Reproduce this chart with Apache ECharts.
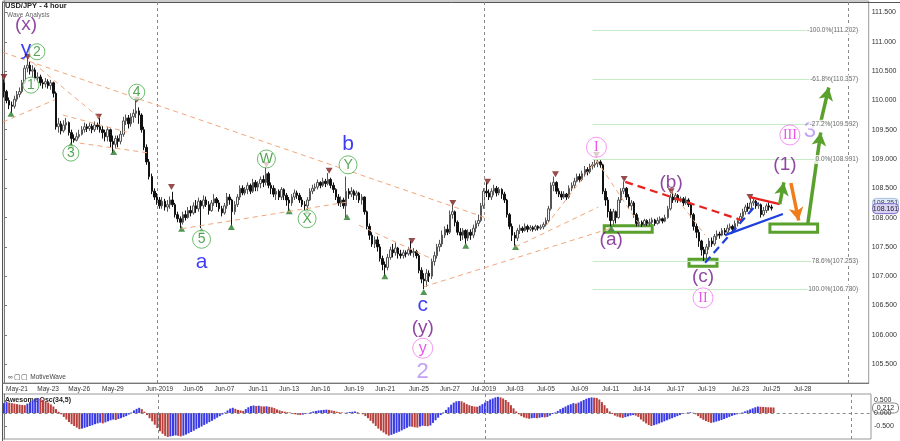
<!DOCTYPE html>
<html><head><meta charset="utf-8">
<script src="https://cdn.jsdelivr.net/npm/echarts@6/dist/echarts.min.js"></script>
<style>html,body{margin:0;padding:0;background:#fff;}#c{width:900px;height:441px;}</style>
</head><body><div id="c"></div>
<script>
// ---------- DATA ----------
const firstOpen = 110.30;
const closes = [
110.15,110.00,109.92,109.90,110.02,110.10,110.15,110.30,110.55,110.60,
110.50,110.52,110.38,110.40,110.30,110.28,110.32,110.25,110.30,110.12,
109.55,109.60,109.48,109.58,109.62,109.45,109.35,109.32,109.38,109.42,
109.50,109.55,109.52,109.56,109.50,109.58,109.55,109.50,109.45,109.38,
109.50,109.30,109.25,109.35,109.30,109.42,109.65,109.70,109.60,109.72,
109.78,109.82,109.75,109.50,109.20,108.95,108.70,108.45,108.35,108.30,
108.20,108.28,108.18,108.22,108.30,108.22,108.05,107.98,107.92,108.05,
108.00,108.12,108.08,108.20,108.15,108.28,108.20,108.30,108.22,108.12,
108.25,108.32,108.25,108.15,108.08,108.20,108.35,108.30,108.10,108.22,
108.35,108.50,108.42,108.48,108.55,108.45,108.60,108.52,108.58,108.65,
108.60,108.75,108.55,108.50,108.40,108.45,108.35,108.48,108.38,108.30,
108.25,108.35,108.42,108.38,108.30,108.22,108.20,108.30,108.45,108.50,
108.52,108.60,108.55,108.62,108.58,108.65,108.55,108.48,108.35,108.25,
108.30,108.20,108.45,108.40,108.45,108.38,108.42,108.30,108.35,108.10,
107.85,107.70,107.55,107.62,107.50,107.30,107.20,107.15,107.32,107.45,
107.40,107.48,107.38,107.35,107.40,107.38,107.45,107.40,107.42,107.35,
107.10,106.95,106.92,107.05,107.00,107.25,107.35,107.50,107.55,107.70,
107.80,107.75,108.05,108.10,107.92,107.75,107.70,107.78,107.65,107.75,
107.70,107.82,107.90,107.95,108.20,108.45,108.42,108.35,108.45,108.50,
108.42,108.48,108.40,108.30,108.05,107.85,107.70,107.65,107.78,107.82,
107.78,107.85,107.80,107.83,107.80,107.85,107.82,107.84,107.88,107.95,
108.15,108.55,108.60,108.45,108.40,108.35,108.40,108.35,108.50,108.55,
108.62,108.70,108.65,108.75,108.82,108.78,108.88,108.90,108.92,108.95,
108.90,108.45,108.30,108.10,107.95,108.10,108.00,108.30,108.45,108.50,
108.35,108.20,108.25,108.05,107.90,107.92,107.88,107.95,107.90,107.92,
107.96,107.90,107.95,107.98,107.94,108.00,108.15,108.35,108.30,108.38,
108.30,108.32,108.25,108.30,108.22,108.05,107.85,107.75,107.60,107.45,
107.38,107.50,107.60,107.55,107.68,107.72,107.70,107.78,107.75,107.82,
107.85,107.80,107.90,107.95,108.02,108.10,108.18,108.15,108.25,108.28,
108.20,108.22,108.05,108.12,108.20,108.18,108.161];
const highs = [
110.36,110.18,110.05,109.98,110.08,110.16,110.22,110.35,110.60,110.72,
110.66,110.60,110.56,110.48,110.44,110.36,110.38,110.36,110.35,110.32,
110.15,109.70,109.65,109.66,109.70,109.64,109.50,109.42,109.45,109.50,
109.56,109.62,109.60,109.62,109.60,109.64,109.62,109.70,109.56,109.50,
109.55,109.52,109.40,109.40,109.40,109.48,109.72,109.76,109.75,109.78,
109.85,110.00,109.88,109.78,109.55,109.25,109.00,108.75,108.50,108.42,
108.35,108.35,108.32,108.30,108.36,108.44,108.25,108.10,108.02,108.10,
108.12,108.18,108.20,108.26,108.30,108.34,108.30,108.38,108.36,108.28,
108.30,108.40,108.35,108.30,108.20,108.25,108.42,108.40,108.32,108.28,
108.40,108.55,108.55,108.52,108.60,108.58,108.66,108.64,108.62,108.70,
108.72,108.86,108.78,108.60,108.55,108.50,108.48,108.52,108.50,108.42,
108.35,108.40,108.48,108.46,108.42,108.35,108.28,108.35,108.50,108.56,
108.58,108.65,108.62,108.68,108.66,108.76,108.68,108.60,108.50,108.40,
108.36,108.34,108.70,108.50,108.52,108.48,108.46,108.44,108.40,108.36,
108.12,107.90,107.75,107.68,107.68,107.55,107.35,107.25,107.38,107.50,
107.55,107.58,107.50,107.45,107.45,107.44,107.50,107.60,107.48,107.45,
107.38,107.15,107.05,107.12,107.10,107.30,107.42,107.55,107.62,107.78,
107.85,107.88,108.12,108.22,108.12,107.95,107.82,107.82,107.80,107.80,
107.80,107.88,107.95,108.05,108.25,108.50,108.60,108.48,108.50,108.56,
108.54,108.52,108.50,108.44,108.32,108.08,107.90,107.75,107.82,107.88,
107.85,107.90,107.88,107.87,107.86,107.88,107.87,107.88,107.92,108.00,
108.20,108.60,108.70,108.62,108.50,108.45,108.45,108.42,108.55,108.60,
108.68,108.75,108.75,108.80,108.88,108.86,108.92,108.95,109.00,108.99,
108.98,108.92,108.50,108.35,108.15,108.15,108.12,108.35,108.50,108.62,
108.52,108.40,108.30,108.28,108.08,108.00,107.95,107.98,107.97,107.98,
108.00,107.98,108.00,108.02,108.00,108.05,108.20,108.40,108.44,108.42,
108.40,108.36,108.35,108.36,108.33,108.25,108.08,107.90,107.80,107.62,
107.50,107.55,107.65,107.66,107.72,107.78,107.76,107.82,107.82,107.88,
107.90,107.88,107.95,108.00,108.08,108.15,108.22,108.25,108.33,108.32,
108.30,108.26,108.24,108.18,108.24,108.26,108.22];
const lows = [
110.05,109.95,109.85,109.78,109.86,109.98,110.05,110.12,110.28,110.48,
110.44,110.40,110.32,110.30,110.25,110.20,110.22,110.20,110.18,110.05,
109.50,109.45,109.42,109.45,109.50,109.40,109.24,109.28,109.30,109.35,
109.40,109.45,109.46,109.48,109.44,109.46,109.50,109.45,109.35,109.30,
109.30,109.20,109.10,109.18,109.20,109.25,109.38,109.58,109.52,109.55,
109.62,109.70,109.60,109.45,109.15,108.90,108.65,108.40,108.30,108.22,
108.15,108.15,108.12,108.10,108.15,108.18,108.00,107.92,107.82,107.88,
107.95,107.98,108.02,108.05,108.08,108.10,107.82,108.15,108.18,108.05,
108.10,108.20,108.18,108.10,108.02,108.05,108.15,108.22,107.85,108.05,
108.18,108.30,108.38,108.38,108.40,108.40,108.42,108.45,108.45,108.50,
108.52,108.55,108.50,108.40,108.35,108.30,108.30,108.30,108.30,108.20,
108.10,108.20,108.30,108.32,108.25,108.18,108.12,108.10,108.28,108.40,
108.45,108.48,108.50,108.52,108.52,108.55,108.50,108.42,108.30,108.20,
108.18,108.15,108.00,108.32,108.35,108.30,108.30,108.25,108.22,108.05,
107.80,107.62,107.50,107.48,107.42,107.25,107.10,107.00,107.10,107.28,
107.32,107.35,107.30,107.30,107.30,107.32,107.35,107.35,107.32,107.30,
107.05,106.88,106.78,106.82,106.90,106.95,107.18,107.30,107.42,107.50,
107.65,107.70,107.72,107.98,107.85,107.70,107.60,107.62,107.55,107.60,
107.62,107.65,107.75,107.85,107.92,108.15,108.35,108.30,108.30,108.38,
108.36,108.38,108.32,108.25,108.00,107.80,107.60,107.52,107.60,107.72,
107.74,107.76,107.75,107.77,107.76,107.77,107.78,107.79,107.80,107.85,
107.92,108.12,108.45,108.40,108.35,108.30,108.32,108.30,108.32,108.45,
108.50,108.60,108.60,108.62,108.70,108.72,108.75,108.82,108.85,108.86,
108.85,108.40,108.20,108.00,107.85,107.88,107.90,107.98,108.25,108.40,
108.30,108.15,108.12,108.00,107.85,107.85,107.84,107.85,107.86,107.86,
107.88,107.86,107.88,107.90,107.90,107.92,107.98,108.12,108.25,108.26,
108.25,108.26,108.20,108.22,108.18,108.00,107.78,107.65,107.50,107.35,
107.24,107.30,107.45,107.50,107.52,107.62,107.64,107.68,107.70,107.72,
107.78,107.76,107.78,107.85,107.92,107.98,108.05,108.10,108.12,108.20,
108.15,108.15,108.00,108.02,108.08,108.12,108.12];
const aoValues = [
0.38,0.42,
0.40,0.38,0.36,0.34,0.32,0.31,0.30,
0.36,0.42,0.48,0.54,0.58,
0.55,0.50,0.45,0.40,0.33,
0.25,0.15,0.05,-0.05,
-0.15,-0.25,-0.35,-0.43,-0.50,-0.56,-0.62,
-0.60,-0.57,-0.54,-0.50,-0.47,-0.43,-0.40,-0.37,-0.40,-0.36,-0.32,
-0.28,-0.25,-0.27,-0.23,-0.20,-0.16,-0.12,-0.06,
0.02,0.10,0.16,0.20,
0.15,0.05,
-0.08,-0.20,-0.32,-0.45,-0.58,-0.70,-0.80,-0.88,
-0.92,-0.90,-0.88,-0.86,-0.88,-0.90,
-0.87,-0.83,-0.78,-0.73,-0.68,-0.62,-0.57,-0.52,-0.46,-0.41,-0.35,-0.30,-0.24,-0.18,-0.12,-0.06,
0.02,0.10,0.17,0.20,
0.16,0.12,0.10,
0.08,0.15,0.22,0.27,0.29,0.27,0.28,0.26,0.25,0.26,0.24,0.22,0.19,
0.14,0.10,0.07,0.05,0.03,0.02,
-0.02,-0.05,-0.07,-0.08,-0.06,-0.04,-0.01,
0.03,0.06,0.08,0.10,0.11,0.12,0.13,0.12,0.10,0.08,0.05,0.03,0.02,
0.01,0.02,0.04,0.05,0.06,0.03,0.00,
-0.05,-0.12,-0.20,-0.30,-0.40,-0.50,-0.60,-0.68,-0.75,-0.82,-0.87,
-0.84,-0.80,-0.76,-0.72,-0.67,-0.62,-0.57,-0.52,
-0.53,-0.55,-0.56,-0.52,-0.49,-0.50,-0.51,-0.48,
-0.38,-0.28,-0.18,-0.08,0.02,
0.12,0.22,0.32,0.40,0.45,
0.46,0.45,
0.40,0.34,0.30,0.27,0.25,0.24,
0.28,0.34,0.40,0.46,0.52,0.56,0.60,0.62,
0.60,0.56,0.50,0.42,
0.30,0.18,0.06,-0.05,
-0.12,-0.17,-0.20,-0.22,-0.20,-0.19,-0.20,-0.18,-0.16,-0.17,-0.15,-0.10,
-0.04,0.02,0.08,0.15,0.20,
0.25,0.30,0.34,0.38,0.36,0.40,0.45,
0.50,0.55,0.58,0.60,0.59,0.58,
0.52,0.42,0.30,0.18,0.06,
-0.04,-0.10,-0.14,-0.17,-0.19,
-0.16,-0.13,-0.10,-0.08,-0.10,
-0.15,-0.25,-0.33,-0.40,-0.46,-0.50,
-0.47,-0.44,-0.40,-0.36,-0.32,-0.28,-0.24,-0.20,-0.16,-0.12,-0.08,-0.04,-0.01,0.02,
0.03,0.01,
-0.05,-0.12,-0.20,-0.26,-0.31,-0.35,-0.38,
-0.36,-0.33,-0.30,-0.27,-0.23,-0.19,-0.15,-0.11,-0.08,-0.05,-0.02,
0.02,0.06,0.10,0.14,0.18,0.22,0.25,
0.24,0.23,0.225,0.22,0.215,0.212];
const tickIdx  = [5,17,29,42,60,73,85,98,110,122,135,147,160,172,185,197,209,222,234,246,259,271,284,296,308];
const tickText = ['May-21','May-23','May-26','May-29','Jun-2019','Jun-05','Jun-07','Jun-11','Jun-13','Jun-16','Jun-19','Jun-21','Jun-25','Jun-27','Jul-2019','Jul-03','Jul-05','Jul-09','Jul-11','Jul-14','Jul-17','Jul-19','Jul-23','Jul-25','Jul-28'];
const fibPrices = [111.202,110.357,109.592,108.991,107.253,106.780];
const fibNames  = ['-100.0%','-61.8%','-27.2%','0.0%','78.6%','100.0%'];
const lastPrice = 108.161;
const prevPrice = 108.251;
const lastAO = 0.212;
const SLOTS = 334;

// ---------- ANNOTATIONS (bar index, price) ----------
const waveTexts = [
 [8.5,111.29,'(x)','p'],[8.5,110.88,'y','b'],[76.2,107.23,'a','b'],[132.7,109.26,'b','b'],
 [161.5,106.51,'c','b'],[161.5,106.12,'(y)','p'],[161.5,105.37,'2','l'],
 [234.2,107.62,'(a)','p'],[257.3,108.59,'(b)','p'],[269.6,106.99,'(c)','p'],
 [301.2,108.90,'(1)','p'],[310.8,109.48,'3','l']];
const waveCircles = [
 [12.7,110.83,'2','g'],[10.4,110.26,'1','g'],[25.8,109.10,'3','g'],[51.2,110.14,'4','g'],
 [76.2,107.63,'5','G'],[101.2,109.0,'W','G'],[116.9,107.98,'X','G'],[132.7,108.90,'Y','G'],
 [161.5,105.77,'y','m'],[228.5,109.20,'I','m'],[269.6,106.63,'II','m'],[303.1,109.41,'III','m']];
const topMarks = [[0,110.40],[9.2,110.74],[36.5,109.72],[51.2,110.01],[64.6,108.52],[101.2,108.90],
 [125.4,108.80],[157.3,107.60],[173.1,108.25],[186.5,108.61],[212.7,108.74],[228.5,109.07],
 [239.2,108.66],[257.3,108.45],[287.7,108.35]];
const botMarks = [[2.7,109.77],[25.8,109.24],[42.3,109.12],[68.5,107.81],[76.2,107.77],[87.7,107.84],
 [110,108.11],[116.9,108.11],[132.3,108.01],[146.9,107.0],[161.9,106.73],[178.1,107.52],[197.3,107.50],[234.2,107.82]];
const peachLines = [
 [[-0.4,110.82],[186.9,107.98]],[[11.2,110.64],[36.9,109.70]],[[22.7,109.75],[47.3,109.46]],
 [[29.2,109.27],[56.2,109.10]],[[-0.4,109.63],[19.6,110.01]],[[68.5,107.81],[133.1,108.27]],
 [[136.9,107.87],[163.8,107.32]],[[161.9,106.82],[234.2,107.82]],[[197.3,107.50],[229.2,108.18]],
 [[209.2,107.87],[228.5,108.98]],[[228.5,108.98],[244.6,107.91]],[[257.3,108.45],[270.4,107.70]]];
const boldLines = [
 [[239.6,108.61],[284.2,107.96],'#e8231f','dashed',2.2,false],
 [[287.7,108.35],[299.2,108.23],'#e8231f','solid',2.2,false],
 [[270.4,107.23],[290.8,108.25],'#1f3fdc','dashed',2.2,false],
 [[278.1,107.70],[300.4,108.06],'#1f3fdc','solid',2.2,false],
 [[299.2,108.23],[300.8,108.60],'#5aa02c','solid',3.5,true],
 [[303.5,108.59],[306.5,107.95],'#f07d1a','solid',3.5,true],
 [[310.0,107.89],[315.0,109.45],'#5aa02c','solid',3.5,true],
 [[315.0,109.63],[318.1,110.22],'#5aa02c','solid',3.5,true]];
const boxes = [[[231.5,107.86],[250,107.75]],[[264.2,107.29],[275,107.17]],[[295.4,107.89],[313.8,107.75]]];

// ---------- BUILD ----------
const cats = Array.from({length:SLOTS},(_,i)=>String(i));
const candle = closes.map((c,i)=>{
  const o = i===0?firstOpen:closes[i-1];
  return [o,c,Math.min(lows[i],o,c),Math.max(highs[i],o,c)];
});
const aoData = aoValues.map((v,i)=>({value:v,itemStyle:{color:(i===0||v>=aoValues[i-1])?'#3a3ae6':'#b8403c'}}));
const tickMap = {}; tickIdx.forEach((k,j)=>tickMap[k]=tickText[j]);
const FONT='"Liberation Sans", Arial, sans-serif';
const colors = {p:'#74198a',b:'#0a0af5',l:'#b08af2'};

const textData = waveTexts.map(t=>({value:[t[0],t[1]],label:{show:true,position:'inside',formatter:t[2],
  color:colors[t[3]],fontSize:t[3]==='l'?22:(t[3]==='b'?21:19),fontFamily:FONT}}));
const fibLabelData = fibPrices.map((p,j)=>({value:[330,p],label:{show:true,position:'left',distance:0,
  formatter:fibNames[j]+'('+p.toFixed(3)+')',fontSize:6.5,color:'#444',fontFamily:FONT,backgroundColor:'#fff',padding:[1,1]}}));
const circleData = waveCircles.map(c=>{
  const k=c[3]; const sz = k==='g'?16:(k==='G'?18:20);
  const col = k==='m'?'#e22be2':'#2a8f2a';
  const serif = (k==='m' && c[2]!=='y');
  return {value:[c[0],c[1]],symbolSize:sz,itemStyle:{color:'rgba(255,255,255,0.9)',borderColor:k==='m'?'#f27af2':'#48ad48',borderWidth:1},
    label:{show:true,position:'inside',formatter:c[2],color:col,fontSize:serif?14:(k==='m'?16:14),
      fontFamily:serif?'"Liberation Serif", serif':FONT}};
});
const mlData = [];
peachLines.forEach(l=>mlData.push([{coord:l[0],symbol:'none',lineStyle:{color:'#f0a77c',width:1,type:[5,4]}},{coord:l[1],symbol:'none'}]));
fibPrices.forEach(p=>mlData.push([{coord:[227,p],symbol:'none',lineStyle:{color:'#c6ecc6',width:1,type:'solid'}},{coord:[330,p],symbol:'none'}]));
boldLines.forEach(l=>mlData.push([{coord:l[0],symbol:'none',lineStyle:{color:l[2],width:l[4],type:l[3]==='dashed'?[8,5]:'solid'}},
  {coord:l[1],symbol:l[5]?'arrow':'none',symbolSize:l[5]?[11,13]:0}]));
const maData = boxes.map(b=>[{coord:b[0],itemStyle:{color:'#ffffff',borderColor:'#5aa02c',borderWidth:3}},{coord:b[1]}]);

const chart = echarts.init(document.getElementById('c'),null,{renderer:'canvas'});
const GL=2.7, GR=29;
chart.setOption({
  animation:false,
  backgroundColor:'#fff',
  grid:[{left:GL,right:GR,top:1,bottom:58,show:true,borderColor:'#999',borderWidth:1},
        {left:GL,right:GR,top:394,bottom:2,show:true,borderColor:'#999',borderWidth:1}],
  xAxis:[
    {type:'category',gridIndex:0,data:cats,boundaryGap:true,
     axisLine:{lineStyle:{color:'#777'}},
     axisTick:{interval:(i)=>tickMap[i]!==undefined,alignWithLabel:true,length:3,lineStyle:{color:'#777'}},
     axisLabel:{interval:(i)=>tickMap[i]!==undefined,formatter:(v,i)=>tickMap[i]||'',fontSize:6.5,color:'#333',margin:3,fontFamily:FONT},
     splitLine:{show:false}},
    {type:'category',gridIndex:1,data:cats,boundaryGap:true,axisLine:{show:false},axisTick:{show:false},axisLabel:{show:false}},
    {type:'value',gridIndex:0,min:-0.5,max:SLOTS-0.5,show:false},
    {type:'value',gridIndex:1,min:-0.5,max:SLOTS-0.5,show:false}
  ],
  yAxis:[
    {type:'value',gridIndex:0,position:'right',min:105.177,max:111.696,minInterval:0.5,maxInterval:0.5,splitNumber:13,
     axisLine:{show:true,lineStyle:{color:'#777'}},axisTick:{show:true,length:3,lineStyle:{color:'#777'}},
     axisLabel:{showMinLabel:false,showMaxLabel:false,formatter:v=>v.toFixed(3),fontSize:7,color:'#333',margin:3,fontFamily:FONT},
     splitLine:{show:false}},
    {type:'value',gridIndex:1,position:'right',min:-1.0,max:0.731,minInterval:0.5,maxInterval:0.5,
     axisLine:{show:true,lineStyle:{color:'#777'}},axisTick:{show:true,length:3,lineStyle:{color:'#777'}},
     axisLabel:{showMinLabel:false,showMaxLabel:false,formatter:v=>v.toFixed(3),fontSize:7,color:'#333',margin:3,fontFamily:FONT},
     splitLine:{show:false}}
  ],
  series:[
    {type:'scatter',xAxisIndex:2,yAxisIndex:0,z:1,silent:true,data:[[0,108]],symbolSize:0,
     markLine:{silent:true,symbol:'none',label:{show:false},lineStyle:{color:'#888',type:[3,3],width:1},
       data:[{xAxis:59.2},{xAxis:185.3},{xAxis:325.8}]}},
    {type:'candlestick',xAxisIndex:0,yAxisIndex:0,z:2,data:candle,barWidth:2,silent:true,
     itemStyle:{color:'#f4f4f4',color0:'#111',borderColor:'#555',borderColor0:'#111',borderWidth:1}},
    {type:'scatter',xAxisIndex:2,yAxisIndex:0,z:3,silent:true,clip:false,data:[[0,108]],symbolSize:0,
     markLine:{silent:true,symbol:'none',label:{show:false},data:mlData},
     markArea:{silent:true,data:maData}},
    {type:'scatter',xAxisIndex:2,yAxisIndex:0,z:4,silent:true,symbol:'triangle',symbolRotate:180,symbolSize:[7,6],
     itemStyle:{color:'#7a1f1f'},data:topMarks},
    {type:'scatter',xAxisIndex:2,yAxisIndex:0,z:4,silent:true,symbol:'triangle',symbolSize:[7,6],
     itemStyle:{color:'#2a7a2a'},data:botMarks},
    {type:'scatter',xAxisIndex:2,yAxisIndex:0,z:5,silent:true,clip:false,symbolSize:1,itemStyle:{color:'rgba(0,0,0,0)'},data:textData},
    {type:'scatter',xAxisIndex:2,yAxisIndex:0,z:5,silent:true,clip:false,symbol:'circle',data:circleData},
    {type:'scatter',xAxisIndex:2,yAxisIndex:0,z:5,silent:true,clip:false,symbolSize:1,itemStyle:{color:'rgba(0,0,0,0)'},data:fibLabelData},
    {type:'scatter',xAxisIndex:3,yAxisIndex:1,z:1,silent:true,data:[[0,0]],symbolSize:0,
     markLine:{silent:true,symbol:'none',label:{show:false},lineStyle:{color:'#888',type:[3,3],width:1},
       data:[{xAxis:59.2},{xAxis:185.3},{xAxis:325.8},{yAxis:0}]}},
    {type:'bar',xAxisIndex:1,yAxisIndex:1,z:2,barWidth:2,silent:true,data:aoData}
  ]
});
// price tags placed through the library's own scales
const yLast = chart.convertToPixel({yAxisIndex:0}, lastPrice);
const yPrev = chart.convertToPixel({yAxisIndex:0}, prevPrice);
const yAO = chart.convertToPixel({yAxisIndex:1}, lastAO);
function tag(id,y,txt,fill,stroke,col){
  return {type:'group',id:id,left:872,top:y-5,children:[
    {type:'rect',shape:{x:0,y:0,width:26,height:10,r:4},style:{fill:fill,stroke:stroke,lineWidth:1}},
    {type:'text',style:{x:13,y:5,text:txt,font:'7px '+FONT,fill:col,align:'center',verticalAlign:'middle'}}]};
}
chart.setOption({graphic:[
  {type:'text',id:'t1',left:5,top:2,style:{text:'USD/JPY - 4 hour',font:'bold 7.5px '+FONT,fill:'#222'}},
  {type:'text',id:'t2',left:7,top:12,style:{text:'Wave Analysis',font:'6.5px '+FONT,fill:'#666'}},
  {type:'text',id:'t3',left:8,top:374,style:{text:'\u221e \u25a2\u25a2 MotiveWave',font:'6.5px '+FONT,fill:'#444'}},
  {type:'text',id:'t4',left:5,top:397,style:{text:'Awesome Osc(34,5)',font:'bold 7px '+FONT,fill:'#222'}},
  {type:'rect',id:'fr',left:0,top:0,shape:{width:899,height:440},style:{fill:'none',stroke:'#555',lineWidth:1}},
  tag('g1',yPrev,prevPrice.toFixed(3),'#dfeaf8','#a8c0e0','#446'),
  tag('g2',yLast,lastPrice.toFixed(3),'#d9d2f4','#7a6cc4','#222'),
  tag('g3',yAO,lastAO.toFixed(3),'#ffffff','#888','#222')
]});
</script></body></html>
